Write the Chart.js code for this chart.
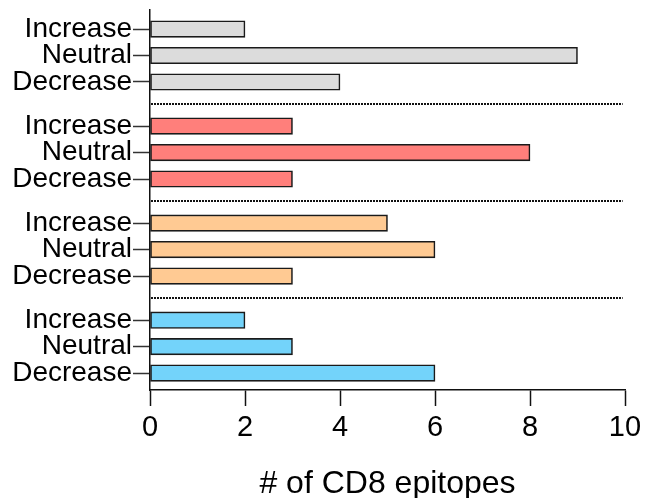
<!DOCTYPE html>
<html>
<head>
<meta charset="utf-8">
<script src="https://cdn.jsdelivr.net/npm/chart.js@4"></script>
<style>
  body { margin: 0; background: #fff; }
  #wrap { width: 647px; height: 498px; position: relative; }
</style>
</head>
<body>
<div id="wrap"><canvas id="epitopeChart"></canvas></div>
<script>
// rows repeated inside each group, top to bottom
const rowLabels = ['Increase', 'Neutral', 'Decrease'];
// one array per coloured group, top to bottom
const greyGroup = [2, 9, 4];
const redGroup = [3, 8, 3];
const orangeGroup = [5, 6, 3];
const blueGroup = [2, 3, 6];
const groups = [greyGroup, redGroup, orangeGroup, blueGroup];
const groupColors = ['#DCDCDC', '#FF7F7B', '#FFCA93', '#73D3FA'];
const xTicks = [0, 2, 4, 6, 8, 10];
const xTitle = '# of CD8 epitopes';

// row slots on the y scale, with a wider gap between groups
const groupStep = 3.667;
const positions = [];
const labels = [];
const points = [];
const fills = [];
groups.forEach(function(vals, g) {
    vals.forEach(function(v, r) {
        const pos = g * groupStep + r;
        positions.push(pos);
        labels.push(rowLabels[r]);
        points.push({ x: v, y: pos });
        fills.push(groupColors[g]);
    });
});
const separators = [1, 2, 3].map(g => g * groupStep - (groupStep - 2) / 2);

const font = "'Liberation Sans', Arial, sans-serif";

// dotted lines between the groups
const separatorLines = {
    id: 'separatorLines',
    afterDatasetsDraw(chart) {
        const ctx = chart.ctx;
        const x = chart.scales.x, y = chart.scales.y;
        ctx.save();
        ctx.setLineDash([2, 1]);
        ctx.lineWidth = 2;
        ctx.strokeStyle = '#111';
        separators.forEach(function(v) {
            const py = Math.round(y.getPixelForValue(v));
            ctx.beginPath();
            ctx.moveTo(Math.round(x.left) + 1, py);
            ctx.lineTo(x.getPixelForValue(9.95), py);
            ctx.stroke();
        });
        ctx.restore();
    }
};

new Chart(document.getElementById('epitopeChart'), {
    type: 'bar',
    data: {
        datasets: [{
            data: points,
            backgroundColor: fills,
            borderColor: '#1a1a1a',
            borderWidth: 1.6,
            borderSkipped: false,
            barThickness: 16.5
        }]
    },
    options: {
        indexAxis: 'y',
        responsive: true,
        maintainAspectRatio: false,
        animation: false,
        layout: { padding: { top: 10, right: 22, left: 0, bottom: 0 } },
        plugins: {
            legend: { display: false },
            tooltip: { enabled: false }
        },
        scales: {
            x: {
                type: 'linear',
                min: 0,
                max: 10,
                afterBuildTicks: function(axis) {
                    axis.ticks = xTicks.map(v => ({ value: v }));
                },
                afterFit: function(axis) { axis.height = 108; },
                grid: {
                    drawOnChartArea: false,
                    tickLength: 16,
                    tickColor: '#111',
                    tickWidth: 1.5
                },
                border: { color: '#111', width: 1.5 },
                ticks: {
                    color: '#000',
                    padding: 5,
                    font: { family: font, size: 29 }
                },
                title: {
                    display: true,
                    text: xTitle,
                    color: '#000',
                    font: { family: font, size: 32 },
                    padding: { top: 12, bottom: -5 }
                }
            },
            y: {
                type: 'linear',
                reverse: true,
                offset: false,
                min: -0.72,
                max: 13.64,
                afterBuildTicks: function(axis) {
                    axis.ticks = positions.map(v => ({ value: v }));
                },
                afterFit: function(axis) {
                    axis.width = 150;
                    axis.paddingTop = 0;
                    axis.paddingBottom = 0;
                },
                grid: {
                    offset: false,
                    drawOnChartArea: false,
                    tickLength: 17,
                    tickColor: '#333',
                    tickWidth: 1.5
                },
                border: { color: '#111', width: 1.5 },
                ticks: {
                    color: '#000',
                    padding: 1,
                    autoSkip: false,
                    font: { family: font, size: 28 },
                    callback: function(value, index) { return labels[index]; }
                }
            }
        }
    },
    plugins: [separatorLines]
});
</script>
</body>
</html>
